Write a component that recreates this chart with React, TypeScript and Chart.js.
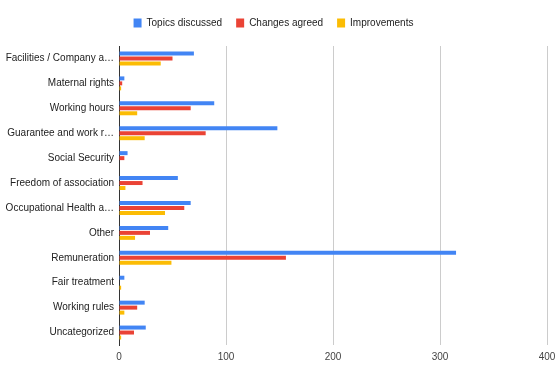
import React, { useEffect, useRef } from "react";
import { Chart, registerables } from "chart.js";

Chart.register(...registerables);

const categories = [
  "Facilities / Company a…",
  "Maternal rights",
  "Working hours",
  "Guarantee and work r…",
  "Social Security",
  "Freedom of association",
  "Occupational Health a…",
  "Other",
  "Remuneration",
  "Fair treatment",
  "Working rules",
  "Uncategorized",
];

const topicsDiscussed = [70, 5, 89, 148, 8, 55, 67, 46, 315, 5, 24, 25];
const changesAgreed = [50, 3, 67, 81, 5, 22, 61, 29, 156, 0, 17, 14];
const improvements = [39, 2, 17, 24, 0, 6, 43, 15, 49, 2, 5, 2];

const xTicks = [0, 100, 200, 300, 400];

// Gives the legend a fixed block height so the plot starts lower than the legend row.
const legendHeight = {
  id: "legendHeight",
  beforeInit(chart: any) {
    const legend = chart.legend;
    if (!legend) return;
    const origFit = legend.fit;
    legend.fit = function () {
      origFit.call(this);
      this.height = 42;
    };
  },
};

export default function App() {
  const canvasRef = useRef<HTMLCanvasElement | null>(null);

  useEffect(() => {
    if (!canvasRef.current) return;
    const font = { family: "'Liberation Sans', Arial, sans-serif", size: 10 };
    const chart = new Chart(canvasRef.current, {
      type: "bar",
      data: {
        labels: categories,
        datasets: [
          { label: "Topics discussed", data: topicsDiscussed, backgroundColor: "#4285F4" },
          { label: "Changes agreed", data: changesAgreed, backgroundColor: "#EA4335" },
          { label: "Improvements", data: improvements, backgroundColor: "#FBBC04" },
        ].map((d) => ({ ...d, barPercentage: 0.8, categoryPercentage: 0.6, borderWidth: 0 })),
      },
      options: {
        indexAxis: "y",
        animation: false,
        responsive: false,
        maintainAspectRatio: false,
        layout: { padding: { left: 0, right: 8, top: 4, bottom: 0 } },
        plugins: {
          tooltip: { enabled: false },
          legend: {
            position: "top",
            align: "center",
            labels: {
              font,
              color: "#222",
              boxWidth: 8,
              boxHeight: 9,
              padding: 14,
            },
          },
        },
        scales: {
          x: {
            min: 0,
            max: 400,
            afterBuildTicks: (scale: any) => {
              scale.ticks = xTicks.map((v) => ({ value: v }));
            },
            afterFit: (scale: any) => {
              scale.height = 20;
              scale.paddingRight = 0;
              scale.paddingLeft = 0;
            },
            ticks: { font, color: "#444", padding: 6 },
            grid: { color: "#ccc", drawTicks: false },
            border: { display: false },
          },
          y: {
            afterFit: (scale: any) => {
              scale.width = 119;
            },
            ticks: { font, color: "#222", padding: 5 },
            grid: { display: false, drawTicks: false },
            border: { display: true, color: "#333", width: 1 },
          },
        },
      },
      plugins: [legendHeight],
    });
    return () => chart.destroy();
  }, []);

  return (
    <div style={{ position: "fixed", left: 0, top: 0, width: 555, height: 365, background: "#fff" }}>
      <canvas ref={canvasRef} width={555} height={365} />
    </div>
  );
}
